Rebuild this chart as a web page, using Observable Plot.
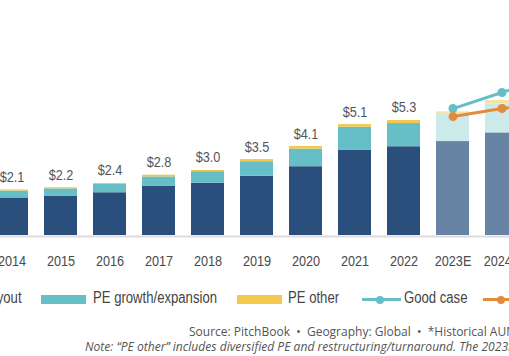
<!DOCTYPE html>
<html>
<head>
<meta charset="utf-8">
<script src="https://cdn.jsdelivr.net/npm/d3@7"></script>
<script src="https://cdn.jsdelivr.net/npm/@observablehq/plot@0.6"></script>
<style>
  html, body { margin: 0; padding: 0; background: #fff; }
  #wrap { position: relative; width: 509px; height: 356px; overflow: hidden; background: #fff;
    font-family: "Liberation Sans", Arial, sans-serif; color: #4a4a4a; }
  #chart { position: absolute; left: -16px; top: 0; width: 594px; }
  #chart svg { max-width: none !important; }
  .lg { position: absolute; }
  .sw { height: 9px; top: 295px; }
  .ln { height: 3px; top: 298px; }
  .dt { width: 8px; height: 8px; border-radius: 50%; top: 295.5px; }
  .tx { top: 288px; font-size: 16px; line-height: 20px; white-space: nowrap; color: #444; transform: scaleX(0.82); transform-origin: 0 50%; }
  .src { position: absolute; white-space: nowrap; font-family: "Open Sans", "Noto Sans", sans-serif; color: #555; line-height: 14px; }
</style>
</head>
<body>
<div id="wrap">
  <div id="chart"></div>
  <div id="legend"></div>
  <div class="src" style="left:189px; top:324.5px; font-size:12px;">Source: PitchBook&nbsp; • &nbsp;Geography: Global&nbsp; • &nbsp;*Historical AUM as of March 31, 2023</div>
  <div class="src" style="left:85px; top:339.5px; font-size:12.1px; font-style:italic;">Note: “PE other” includes diversified PE and restructuring/turnaround. The 2023E–2027E figures are forecasts.</div>
</div>
<script>
const years = ["2014","2015","2016","2017","2018","2019","2020","2021","2022","2023E","2024E","2025E"];
const buyout = [1.73, 1.80, 1.97, 2.26, 2.41, 2.73, 3.17, 3.92, 4.09, 4.33, 4.73];
const growth = [0.32, 0.35, 0.38, 0.44, 0.53, 0.67, 0.81, 1.07, 1.07, 1.26, 1.32];
const other  = [0.05, 0.05, 0.05, 0.08, 0.06, 0.10, 0.12, 0.12, 0.14, 0.11, 0.17];
const totalLabels = ["$2.1","$2.2","$2.4","$2.8","$3.0","$3.5","$4.1","$5.1","$5.3"];
const goodCase = [null,null,null,null,null,null,null,null,null, 5.85, 6.59, 7.30];
const badCase  = [null,null,null,null,null,null,null,null,null, 5.48, 5.85, 6.10];
const seriesNames = ["PE buyout","PE growth/expansion","PE other"];
const lineNames = ["Good case","Bad case"];

const histColors = ["#2b4f7c", "#66bfc6", "#f2c94c"];
const foreColors = ["#6784a4", "#cdeaeb", "#f7e3a0"];
const goodColor = "#66bfc6", badColor = "#e08c3f";

const rows = [];
[buyout, growth, other].forEach((arr, s) => {
  arr.forEach((v, i) => {
    const forecast = years[i].endsWith("E");
    rows.push({year: years[i], series: seriesNames[s], value: v, color: (forecast ? foreColors : histColors)[s], order: s});
  });
});

const labels = totalLabels.map((t, i) => ({year: years[i], text: t, total: buyout[i] + growth[i] + other[i]}));
const good = years.map((y, i) => ({year: y, value: goodCase[i]})).filter(d => d.value != null);
const bad = years.map((y, i) => ({year: y, value: badCase[i]})).filter(d => d.value != null);

const chart = Plot.plot({
  width: 594,
  height: 285,
  marginLeft: 0,
  marginRight: 0,
  marginTop: 18,
  marginBottom: 50,
  style: {fontFamily: '"Liberation Sans", Arial, sans-serif', background: "transparent", overflow: "visible", maxWidth: "none"},
  x: {domain: years, paddingInner: 0.3333, paddingOuter: 0.16667, label: null},
  y: {domain: [0, 10], axis: null},
  marks: [
    Plot.barY(rows, Plot.stackY({x: "year", y: "value", fill: "color", order: null})),
    Plot.ruleY([0], {stroke: "#dcdcdc", strokeWidth: 2, dy: 1}),
    Plot.text(labels, {x: "year", y: "total", text: "text", dy: -13, lineAnchor: "middle", fontSize: 15.5, fill: "#555"}),
    Plot.axisX({tickSize: 0, tickPadding: 19, fontSize: 15.5, fill: "#4a4a4a", label: null}),
    Plot.line(good, {x: "year", y: "value", stroke: goodColor, strokeWidth: 3}),
    Plot.line(bad, {x: "year", y: "value", stroke: badColor, strokeWidth: 3}),
    Plot.dot(good, {x: "year", y: "value", fill: goodColor, r: 4.5}),
    Plot.dot(bad, {x: "year", y: "value", fill: badColor, r: 4.5})
  ]
});
document.getElementById("chart").appendChild(chart);

// narrow the glyphs horizontally (condensed look), keeping each text's anchor point
chart.querySelectorAll("text").forEach(t => {
  const tr = t.getAttribute("transform");
  if (tr) {
    t.setAttribute("transform", tr + " scale(0.82,1)");
  } else {
    const x = +(t.getAttribute("x") || 0), y = +(t.getAttribute("y") || 0);
    t.removeAttribute("x"); t.removeAttribute("y");
    t.setAttribute("transform", `translate(${x},${y}) scale(0.82,1)`);
  }
});

// legend
const legend = document.getElementById("legend");
function add(cls, style, html) {
  const e = document.createElement("div");
  e.className = "lg " + cls;
  e.setAttribute("style", style);
  if (html) e.textContent = html;
  legend.appendChild(e);
}
const swX = [-90, 41, 237];
const txX = [-39, 93, 288];
seriesNames.forEach((n, i) => {
  add("sw", `left:${swX[i]}px;width:45px;background:${histColors[i]}`);
  add("tx", `left:${txX[i]}px`, n);
});
const lnX = [362, 483], lnTx = [404, 526];
[goodColor, badColor].forEach((c, i) => {
  add("ln", `left:${lnX[i]}px;width:39px;background:${c}`);
  add("dt", `left:${lnX[i] + 14}px;background:${c}`);
  add("tx", `left:${lnTx[i]}px`, lineNames[i]);
});
</script>
</body>
</html>
